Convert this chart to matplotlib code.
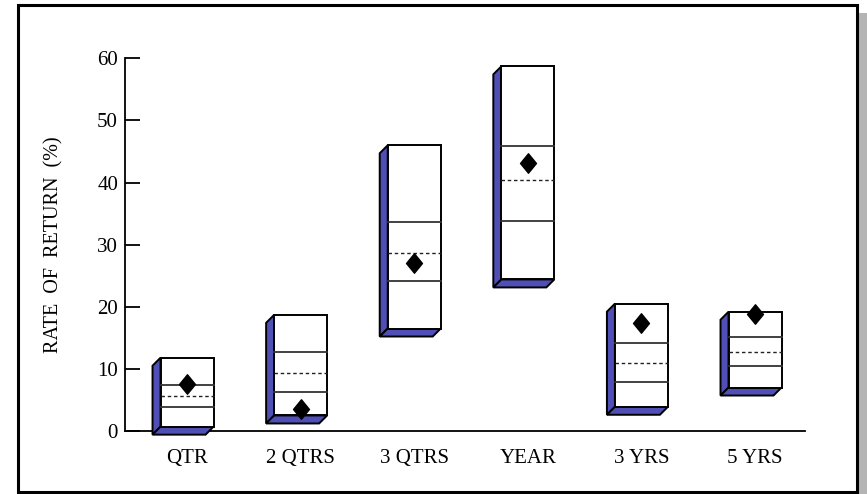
import matplotlib
matplotlib.use("Agg")
import matplotlib.pyplot as plt
from matplotlib.patches import Polygon, Rectangle
from matplotlib.path import Path

categories = ['QTR', '2 QTRS', '3 QTRS', 'YEAR', '3 YRS', '5 YRS']
box_low = [0.7, 2.5, 16.5, 24.4, 3.9, 7.0]
box_high = [11.8, 18.7, 46.0, 58.7, 20.5, 19.2]
q_low = [3.9, 6.3, 24.2, 33.8, 7.9, 10.4]
median = [5.6, 9.4, 28.7, 40.4, 10.9, 12.7]
q_high = [7.35, 12.7, 33.7, 45.9, 14.2, 15.1]
points = [7.6, 3.5, 27.1, 43.2, 17.4, 18.8]
yticks = [0, 10, 20, 30, 40, 50, 60]

plt.rcParams['font.family'] = ['Liberation Serif', 'DejaVu Serif']

W, H, DPI = 867, 494, 100
fig = plt.figure(figsize=(W / DPI, H / DPI), dpi=DPI)
fig.patch.set_facecolor('white')

# outer frame and shadow
fig.patches.append(Rectangle((858 / W, 0), 9 / W, 1 - 13 / H, transform=fig.transFigure,
                             facecolor='#b4b4b4', edgecolor='none', zorder=-3))
fig.patches.append(Rectangle((17.5 / W, 1 - 491.5 / H), (856.5 - 17.5) / W, (491.5 - 5.5) / H,
                             transform=fig.transFigure, facecolor='white', edgecolor='black',
                             linewidth=2.2, zorder=-2))

left, right, bottom, top = 125 / W, 805 / W, 1 - 431 / H, 1 - 58.3 / H
ax = fig.add_axes([left, bottom, right - left, top - bottom])
ax.set_zorder(5)
ax.set_facecolor('none')
xlim = (-0.546, 5.44)
ylim = (0, 60)
ax.set_xlim(*xlim)
ax.set_ylim(*ylim)

# convert 8px depth offset to data units
px_x = (right - left) * W / (xlim[1] - xlim[0])
px_y = (top - bottom) * H / (ylim[1] - ylim[0])
dx = 8 / px_x
dy = 8 / px_y
bw = 53 / px_x

blue = '#4F4FB5'
for i in range(len(categories)):
    x0, x1 = i - bw / 2, i + bw / 2
    lo, hi = box_low[i], box_high[i]
    side = Polygon([(x0, lo), (x0, hi), (x0 - dx, hi - dy), (x0 - dx, lo - dy)],
                   closed=True, facecolor=blue, edgecolor='black', linewidth=1.4,
                   clip_on=False, zorder=2)
    bot = Polygon([(x0, lo), (x1, lo), (x1 - dx, lo - dy), (x0 - dx, lo - dy)],
                  closed=True, facecolor=blue, edgecolor='black', linewidth=1.4,
                  clip_on=False, zorder=2)
    front = Rectangle((x0, lo), bw, hi - lo, facecolor='white', edgecolor='black',
                      linewidth=1.4, clip_on=False, zorder=3)
    ax.add_patch(side)
    ax.add_patch(bot)
    ax.add_patch(front)
    ax.plot([x0, x1], [q_low[i]] * 2, color='#333333', lw=1.3, zorder=4)
    ax.plot([x0, x1], [q_high[i]] * 2, color='#333333', lw=1.3, zorder=4)
    ax.plot([x0, x1], [median[i]] * 2, color='#222222', lw=1.0,
            linestyle=(0, (2.5, 2)), zorder=4)

diamond = Path([(0, 1), (0.82, 0), (0, -1), (-0.82, 0), (0, 1)],
               [Path.MOVETO, Path.LINETO, Path.LINETO, Path.LINETO, Path.CLOSEPOLY])
ax.plot(range(len(categories)), points, linestyle='none', marker=diamond,
        markersize=14, color='black', zorder=5, clip_on=False)

for s in ['top', 'right']:
    ax.spines[s].set_visible(False)
ax.spines['left'].set_linewidth(1.3)
ax.spines['bottom'].set_linewidth(1.3)
ax.spines['bottom'].set_zorder(1)

ax.set_yticks(yticks)
ax.set_yticklabels([str(v) for v in yticks])
ax.tick_params(axis='y', direction='in', length=11, width=1.3, pad=5, labelsize=15)
ax.set_xticks(range(len(categories)))
ax.set_xticklabels(categories)
ax.tick_params(axis='x', length=0, pad=13, labelsize=15)

fig.text(54 / W, 1 - 245 / H, 'RATE  OF  RETURN  (%)', rotation=90, ha='center', va='center',
         fontsize=14.5)

fig.savefig('out.png', dpi=DPI)
